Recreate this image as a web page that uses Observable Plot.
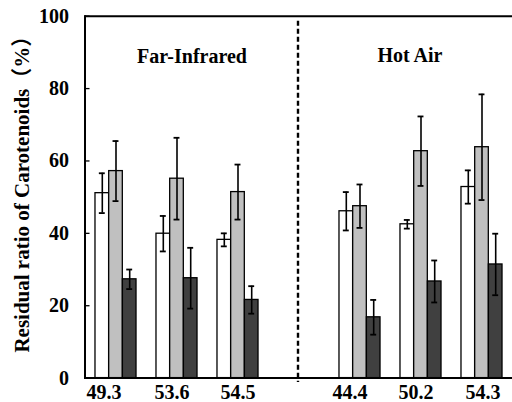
<!DOCTYPE html>
<html>
<head>
<meta charset="utf-8">
<script src="https://cdn.jsdelivr.net/npm/d3@7"></script>
<script src="https://cdn.jsdelivr.net/npm/@observablehq/plot@0.6"></script>
<style>
  html, body { margin: 0; padding: 0; background: #fff; }
  #chart svg { display: block; }
</style>
</head>
<body>
<div id="chart"></div>
<script>
// ---- data ----
const slots = ["49.3", "53.6", "54.5", "gap", "44.4", "50.2", "54.3"];
const categories = ["49.3", "53.6", "54.5", "44.4", "50.2", "54.3"];
const seriesA = [51.1, 39.9, 38.2, 46.1, 42.5, 52.8];
const errorA  = [5.5, 4.9, 1.8, 5.3, 1.2, 4.6];
const seriesB = [57.2, 55.1, 51.4, 47.5, 62.7, 63.8];
const errorB  = [8.3, 11.3, 7.6, 6.0, 9.6, 14.6];
const seriesC = [27.3, 27.6, 21.6, 16.8, 26.7, 31.4];
const errorC  = [2.7, 8.4, 3.8, 4.8, 5.8, 8.5];
const yTicks = [0, 20, 40, 60, 80, 100];
const groupTitles = ["Far-Infrared", "Hot Air"];
const yTitle = "Residual ratio of Carotenoids（%）";

// ---- layout ----
const W = 512, H = 402;
const mL = 84.5, mR = 0, mT = 15.7, mB = 24.4;
const step = (W - mL - mR) / slots.length;
const barW = 13.7, capW = 6;
const barInset = (step - barW) / 2;
const capInset = (step - capW) / 2;
const labelShift = [-12, -5, 0, -10, -5, 1];
const serif = "'Times New Roman', 'Liberation Serif', 'Noto Sans CJK SC', serif";

const series = [
  {values: seriesA, errors: errorA, fill: "#ffffff", dx: -barW},
  {values: seriesB, errors: errorB, fill: "#c0c0c0", dx: 0},
  {values: seriesC, errors: errorC, fill: "#404040", dx: barW}
];

const marks = [];
for (const s of series) {
  const rows = categories.map((c, i) => ({cat: c, v: s.values[i], e: s.errors[i]}));
  marks.push(Plot.barY(rows, {
    x: "cat", y: "v", fill: s.fill, stroke: "#000", strokeWidth: 1.3,
    insetLeft: barInset, insetRight: barInset, dx: s.dx
  }));
}
for (const s of series) {
  const rows = categories.map((c, i) => ({cat: c, v: s.values[i], e: s.errors[i]}));
  marks.push(Plot.ruleX(rows, {
    x: "cat", y1: d => d.v - d.e, y2: d => d.v + d.e,
    stroke: "#000", strokeWidth: 1.6, dx: s.dx
  }));
  marks.push(Plot.tickY(rows, {
    x: "cat", y: d => d.v + d.e, stroke: "#000", strokeWidth: 1.8,
    insetLeft: capInset, insetRight: capInset, dx: s.dx
  }));
  marks.push(Plot.tickY(rows, {
    x: "cat", y: d => d.v - d.e, stroke: "#000", strokeWidth: 1.8,
    insetLeft: capInset, insetRight: capInset, dx: s.dx
  }));
}

const chart = Plot.plot({
  width: W, height: H,
  marginLeft: mL, marginRight: mR, marginTop: mT, marginBottom: mB,
  style: {fontFamily: serif, background: "#fff"},
  x: {type: "band", domain: slots, padding: 0, axis: null},
  y: {domain: [0, 100], axis: null},
  marks: [
    ...marks,
    // frame lines
    Plot.ruleY([100], {stroke: "#000", strokeWidth: 2}),
    Plot.ruleY([0], {stroke: "#000", strokeWidth: 2}),
    Plot.frame({anchor: "left", stroke: "#000", strokeWidth: 2}),
    // y ticks (inward) and labels
    Plot.axisY(yTicks, {tickSize: 0, tickPadding: 16, fontSize: 20, fontWeight: "bold", fill: "#000", label: null}),
    Plot.tickY(yTicks, {y: d => d, stroke: "#000", strokeWidth: 1.3, insetRight: W - mL - mR - 5}),
    // divider
    Plot.ruleX(["gap"], {x: d => d, stroke: "#000", strokeWidth: 2.4, strokeDasharray: "5,3",
      insetTop: 5, insetBottom: -4.5, dx: -1}),
    // x labels
    ...categories.map((c, i) => Plot.text([c], {
      x: d => d, frameAnchor: "bottom", lineAnchor: "middle", dy: 14.3, dx: labelShift[i],
      fontSize: 20, fontWeight: "bold", fill: "#000"
    })),
    // group titles
    Plot.text([groupTitles[0]], {x: () => "53.6", frameAnchor: "top", lineAnchor: "middle", dy: 40, dx: 15,
      fontSize: 20, fontWeight: "bold", fill: "#000"}),
    Plot.text([groupTitles[1]], {x: () => "50.2", frameAnchor: "top", lineAnchor: "middle", dy: 39, dx: -11,
      fontSize: 20, fontWeight: "bold", fill: "#000"}),
    // y title
    Plot.text([yTitle], {frameAnchor: "left", textAnchor: "middle", lineAnchor: "middle", rotate: -90, dx: -63, dy: -8,
      fontSize: 21, fontWeight: "bold", fill: "#000"})
  ]
});
document.getElementById("chart").appendChild(chart);
</script>
</body>
</html>
